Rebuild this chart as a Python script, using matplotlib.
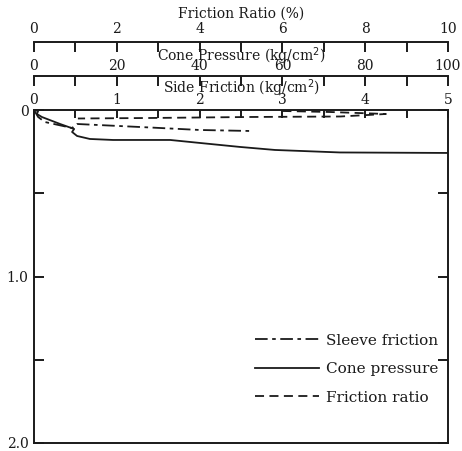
import matplotlib
matplotlib.use("Agg")
import matplotlib.pyplot as plt
from matplotlib.ticker import MultipleLocator, FixedLocator, FixedFormatter

plt.rcParams['font.family'] = ['DejaVu Serif']
INK = '#1a1a1a'
FS = 10

# Cone penetration sounding: depth (m) against each measured quantity
cone_depth = [0.0, 0.006, 0.024, 0.042, 0.084, 0.114, 0.132, 0.156, 0.174,
              0.180, 0.180, 0.180, 0.198, 0.222, 0.240, 0.255, 0.258]
cone_pressure = [0.0, 1.0, 0.7, 1.9, 6.3, 9.7, 9.2, 10.4, 13.5,
                 19.1, 27.3, 32.9, 40.1, 49.8, 58.2, 73.9, 100.0]

sleeve_depth = [0.0, 0.042, 0.072, 0.108, 0.084, 0.105, 0.120, 0.126]
sleeve_friction = [0.0, 0.05, 0.13, 0.46, 0.52, 1.40, 2.00, 2.61]

ratio_depth = [0.006, 0.012, 0.024, 0.039, 0.042, 0.048, 0.051]
friction_ratio = [6.0, 7.15, 8.5, 7.4, 5.2, 2.8, 1.06]

depth_ticks = [0.0, 1.0, 2.0]
depth_labels = ['0', '1.0', '2.0']

fig = plt.figure(figsize=(4.62, 4.51), dpi=100)
ax = fig.add_axes([34 / 462, 1 - 443 / 451, 414 / 462, 333 / 451])
ax.set_xlim(0, 5)
ax.set_ylim(2.0, 0.0)

ln_sf, = ax.plot(sleeve_friction, sleeve_depth, color=INK, lw=1.3,
                 dashes=(7, 2.5, 2, 2.5), label='Sleeve friction')

# cone pressure scale, drawn on a spine lifted above the plot
ax_cp = ax.twiny()
ax_cp.set_xlim(0, 100)
ax_cp.spines['top'].set_position(('outward', 24.5))
for k in ('left', 'right', 'bottom'):
    ax_cp.spines[k].set_visible(False)
ax_cp.spines['top'].set_linewidth(1.4)
ax_cp.spines['top'].set_color(INK)
ax_cp.xaxis.set_major_locator(MultipleLocator(20))
ax_cp.xaxis.set_minor_locator(MultipleLocator(10))
ax_cp.tick_params(axis='x', which='both', direction='in', length=7, width=1.4,
                  colors=INK, labelsize=FS, pad=2.5)
ax_cp.set_xlabel('Cone Pressure (kg/cm$^2$)', fontsize=FS, labelpad=-2, color=INK)
ln_cp, = ax_cp.plot(cone_pressure, cone_depth, color=INK, lw=1.3,
                    label='Cone pressure')

# friction ratio scale, highest spine
ax_fr = ax.twiny()
ax_fr.set_xlim(0, 10)
ax_fr.spines['top'].set_position(('outward', 49))
for k in ('left', 'right', 'bottom'):
    ax_fr.spines[k].set_visible(False)
ax_fr.spines['top'].set_linewidth(1.4)
ax_fr.spines['top'].set_color(INK)
ax_fr.xaxis.set_major_locator(MultipleLocator(2))
ax_fr.xaxis.set_minor_locator(MultipleLocator(1))
ax_fr.tick_params(axis='x', which='both', direction='in', length=7, width=1.4,
                  colors=INK, labelsize=FS, pad=4.5)
ax_fr.set_xlabel('Friction Ratio (%)', fontsize=FS, labelpad=3, color=INK)
ln_fr, = ax_fr.plot(friction_ratio, ratio_depth, color=INK, lw=1.3,
                    dashes=(5, 3), label='Friction ratio')

# main axes: side friction along the plot top, depth on the left
for s in ax.spines.values():
    s.set_linewidth(1.4)
    s.set_color(INK)
ax.xaxis.tick_top()
ax.xaxis.set_label_position('top')
ax.xaxis.set_major_locator(MultipleLocator(1))
ax.xaxis.set_minor_locator(MultipleLocator(0.5))
ax.tick_params(axis='x', which='both', direction='in', length=6, width=1.4,
               colors=INK, labelsize=FS, pad=2.5, top=True, bottom=False,
               labeltop=True, labelbottom=False)
ax.set_xlabel('Side Friction (kg/cm$^2$)', fontsize=FS, labelpad=0, color=INK)
ax.yaxis.set_major_locator(FixedLocator(depth_ticks))
ax.yaxis.set_major_formatter(FixedFormatter(depth_labels))
ax.yaxis.set_minor_locator(FixedLocator([0.5, 1.5]))
ax.tick_params(axis='y', which='both', direction='in', length=7, width=1.4,
               colors=INK, labelsize=FS, pad=4, left=True, right=True)

ax.legend(handles=[ln_sf, ln_cp, ln_fr], loc='upper left',
          bbox_to_anchor=(0.50, 0.37), frameon=False, fontsize=11,
          handlelength=4.2, handletextpad=0.45, labelspacing=0.95,
          labelcolor=INK)

fig.savefig('out.png', dpi=100, facecolor='white')
